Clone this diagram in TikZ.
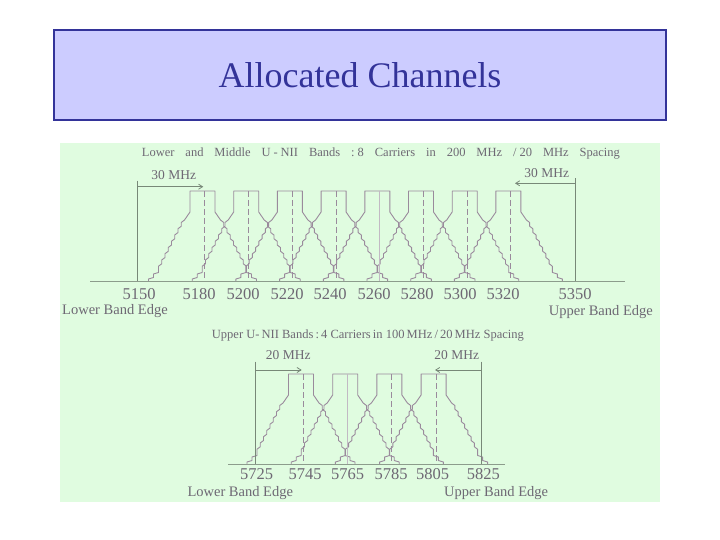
\documentclass[tikz,border=0pt]{standalone}
\usepackage{fontspec}
\usepackage{graphicx}
\setmainfont{Liberation Serif}
\usetikzlibrary{arrows.meta}
\definecolor{titlefill}{HTML}{CCCCFF}
\definecolor{titleblue}{HTML}{333399}
\definecolor{panelgreen}{HTML}{E0FCE0}
\definecolor{masklinecol}{HTML}{9A8A9C}
\definecolor{textgray}{HTML}{6E6874}
\definecolor{edgecol}{HTML}{788878}
\definecolor{axiscol}{HTML}{8C9C8C}
\tikzset{
  maskline/.style={draw=masklinecol, line width=0.9pt, line join=bevel},
  ctrline/.style={draw=masklinecol, line width=0.8pt, dash pattern=on 6pt off 3pt},
  ctrfaint/.style={draw=masklinecol!60, line width=0.6pt},
  edgeline/.style={draw=edgecol, line width=0.8pt},
  edgearrow/.style={draw=edgecol, line width=0.8pt, -{Straight Barb[length=4pt,width=5pt]}},
  axisline/.style={draw=axiscol, line width=0.8pt},
  lbl/.style={inner sep=0pt, text=textgray},
  numlbl/.style={lbl, anchor=base, font=\fontsize{16.5}{19}\selectfont},
  edgelbl/.style={lbl, font=\fontsize{14.5}{18}\selectfont},
  mhzlbl/.style={lbl, anchor=base, font=\fontsize{13.5}{16}\selectfont},
  mask/.pic={
    \draw[maskline] (-54,0) -- ++(0,-2) -- ++(5,-1.5) -- ++(0,-3.5) -- ++(5,-1.5) -- ++(0,-2.5)
      \foreach \i in {1,...,8}{ -- ++(0,-3.75) -- ++(3.25,-2.5)}
      -- (-12.5,-69) -- (-12.5,-90) -- (12.5,-90) -- (12.5,-69) -- (18,-61)
      \foreach \i in {1,...,8}{ -- ++(3.25,2.5) -- ++(0,3.75)}
      -- ++(0,2.5) -- ++(5,1.5) -- ++(0,3.5) -- ++(5,1.5) -- ++(0,2);
  }
}
\begin{document}
\begin{tikzpicture}[x=1pt,y=-1pt]
\useasboundingbox (0,0) rectangle (720,540);
\fill[white] (0,0) rectangle (720,540);

% title
\node[draw=titleblue, line width=1.2pt, fill=titlefill, minimum width=612pt, minimum height=90pt,
      text=titleblue, font=\fontsize{36}{40}\selectfont] (title) at (360,75) {Allocated Channels};

% panel
\fill[panelgreen] (60,143) rectangle (660,502);

% ---------- upper chart ----------
\node[lbl, anchor=base west, font=\fontsize{12.5}{15}\selectfont] (sub1) at (141.7,157)
  {\makebox[478pt][s]{Lower and Middle U\hspace{3pt}-\hspace{3pt}NII Bands :\hspace{3pt}8 Carriers in 200 MHz /\hspace{3pt}20 MHz Spacing}};

\foreach \i in {0,...,7} \pic at ({202.5+43.7*\i},281) {mask};
\foreach \i in {0,1,2,3,5,6,7} \draw[ctrline] ({204.8+43.7*\i},191) -- ({204.8+43.7*\i},281);
\draw[ctrfaint] ({204.8+43.7*4},191) -- ({204.8+43.7*4},281);

\draw[axisline] (90,281) -- (625,281);

\coordinate (le1t) at (137.3,180.7);
\coordinate (le1b) at (137.3,281);
\coordinate (la1s) at (137.3,186.7);
\coordinate (la1e) at (203.3,186.7);
\draw[edgeline] (le1t) -- (le1b);
\draw[edgearrow] (la1s) -- (la1e);
\node[mhzlbl] (mhz1) at (173.7,179.5) {30 MHz};

\coordinate (ue1t) at (575.7,178.3);
\coordinate (ue1b) at (575.7,281);
\coordinate (ua1s) at (575.7,183.3);
\coordinate (ua1e) at (515,183.3);
\draw[edgeline] (ue1t) -- (ue1b);
\draw[edgearrow] (ua1s) -- (ua1e);
\node[mhzlbl] (mhz2) at (546.7,178) {30 MHz};

\foreach \x/\f in {139/5150,199/5180,243/5200,287/5220,330/5240,374/5260,417/5280,460/5300,503/5320,575/5350}
  \node[numlbl] (n\f) at (\x,299.3) {\f};

\node[edgelbl, anchor=base west] (lbe1) at (62,314) {Lower Band Edge};
\node[edgelbl, anchor=base east] (ube1) at (653,315) {Upper Band Edge};

% ---------- lower chart ----------
\node[lbl, anchor=base west] (sub2) at (211.7,338.3)
  {\resizebox{312pt}{!}{\fontsize{12}{14}\selectfont Upper U-\,NII Bands\,:\,4 Carriers\,in 100\,MHz\,/\,20\,MHz Spacing}};

\foreach \i in {0,...,3} \pic at ({301+44.2*\i},464) {mask};
\foreach \i in {0,2,3} \draw[ctrline] ({303.3+44.2*\i},374) -- ({303.3+44.2*\i},464);
\draw[ctrfaint] ({303.3+44.2},374) -- ({303.3+44.2},464);

\draw[axisline] (228.3,464) -- (505,464);

\coordinate (le2t) at (255,361.7);
\coordinate (le2b) at (255,464);
\coordinate (la2s) at (255,370);
\coordinate (la2e) at (301.7,370);
\draw[edgeline] (le2t) -- (le2b);
\draw[edgearrow] (la2s) -- (la2e);
\node[mhzlbl] (mhz3) at (288.3,359.3) {20 MHz};

\coordinate (ue2t) at (481.7,361.7);
\coordinate (ue2b) at (481.7,464);
\coordinate (ua2s) at (481.7,370);
\coordinate (ua2e) at (435,370);
\draw[edgeline] (ue2t) -- (ue2b);
\draw[edgearrow] (ua2s) -- (ua2e);
\node[mhzlbl] (mhz4) at (456.7,359.3) {20 MHz};

\foreach \x/\f in {256.7/5725,305/5745,347.7/5765,391/5785,432.7/5805,483.3/5825}
  \node[numlbl] (n\f) at (\x,479.3) {\f};

\node[edgelbl, anchor=base west] (lbe2) at (187.3,496) {Lower Band Edge};
\node[edgelbl, anchor=base east] (ube2) at (548.3,496) {Upper Band Edge};
\end{tikzpicture}
\end{document}
